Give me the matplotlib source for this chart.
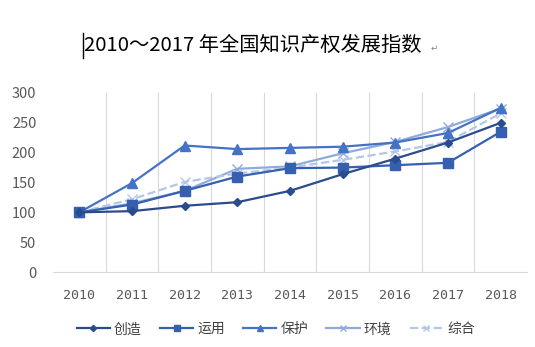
import matplotlib
matplotlib.use("Agg")
from matplotlib import pyplot as plt

plt.rcParams['font.family'] = ['Noto Sans CJK SC', 'DejaVu Sans']

years = ['2010', '2011', '2012', '2013', '2014', '2015', '2016', '2017', '2018']
chuangzao = [100, 102, 111, 117, 136, 164, 190, 217, 250]
yunyong = [100, 113, 136, 160, 174, 175, 179, 183, 235]
baohu = [100, 149, 212, 206, 208, 210, 217, 233, 275]
huanjing = [100, 115, 136, 173, 177, 199, 218, 243, 274]
zonghe = [100, 122, 151, 165, 175, 188, 202, 218, 266]
y_ticks = [0, 50, 100, 150, 200, 250, 300]

fig = plt.figure(figsize=(5.35, 3.47), dpi=100)
ax = fig.add_axes([53 / 535, 75 / 347, 474 / 535, 179 / 347])

x = list(range(len(years)))
ax.plot(x, chuangzao, color='#2B4C8C', lw=1.6, marker='D', ms=4.5, label='创造', zorder=5)
ax.plot(x, yunyong, color='#3560B0', lw=1.6, marker='s', ms=6.5, label='运用', zorder=4)
ax.plot(x, baohu, color='#4472C4', lw=1.6, marker='^', ms=7, label='保护', zorder=3)
ax.plot(x, huanjing, color='#8FAADC', lw=1.6, marker='x', ms=7, mew=1.0, label='环境', zorder=2)
ax.plot(x, zonghe, color='#B4C7E7', lw=1.6, ls='--', marker='x', ms=7, mew=1.0,
        label='综合', zorder=2)

ax.set_xlim(-0.5, 8.5)
ax.set_ylim(0, 300)
ax.set_yticks(y_ticks)
ax.set_xticks(x)
ax.set_xticklabels(years)
for b in [0.5, 1.5, 2.5, 3.5, 4.5, 5.5, 6.5, 7.5]:
    ax.axvline(b, color='#D9D9D9', lw=0.8, zorder=0)

for s in ['top', 'right', 'left']:
    ax.spines[s].set_visible(False)
ax.spines['bottom'].set_color('#D9D9D9')
ax.tick_params(axis='both', length=0, colors='#595959')
ax.tick_params(axis='y', labelsize=10.5, pad=12)
ax.tick_params(axis='x', labelsize=9.5, pad=12)
for t in ax.get_xticklabels():
    t.set_family('DejaVu Sans Mono')

ax.legend(loc='center', bbox_to_anchor=(0.47, -0.32), ncol=5, frameon=False,
          fontsize=10, handlelength=2.4, handletextpad=0.3, columnspacing=1.3,
          markerscale=0.7, labelcolor='#404040')

fig.text(84 / 535, 1 - 45 / 347, '2010～2017 年全国知识产权发展指数', fontsize=14.6,
         va='center', ha='left', color='black')
fig.text(431 / 535, 1 - 48 / 347, '↵', fontsize=6.5, va='center', ha='left', color='#888888',
         family='DejaVu Sans')
fig.add_artist(plt.Line2D([83 / 535, 83 / 535], [1 - 58 / 347, 1 - 33 / 347], color='black', lw=1))

fig.savefig('out.png', dpi=100)
